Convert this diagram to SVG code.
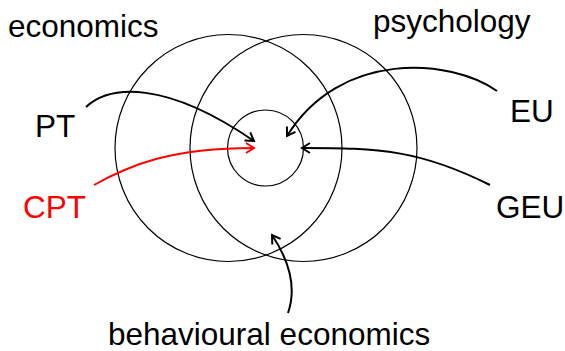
<svg xmlns="http://www.w3.org/2000/svg" width="565" height="351" viewBox="0 0 565 351">
<defs>
<marker id="ah" viewBox="-10 -6 12 12" refX="0" refY="0" markerWidth="12" markerHeight="12" markerUnits="userSpaceOnUse" orient="auto">
<path d="M-8,-5 L0,0 L-8,5" fill="none" stroke="#000" stroke-width="2"/>
</marker>
<marker id="ahr" viewBox="-10 -6 12 12" refX="0" refY="0" markerWidth="12" markerHeight="12" markerUnits="userSpaceOnUse" orient="auto">
<path d="M-8,-5 L0,0 L-8,5" fill="none" stroke="#f00" stroke-width="2"/>
</marker>
</defs>
<style>
.c{fill:none;stroke:#000;stroke-width:1.2}
.t{font-family:"Liberation Sans",Arial,sans-serif;font-size:31.5px;fill:#000}
.e{fill:none;stroke:#000;stroke-width:2;marker-end:url(#ah)}
.r{fill:none;stroke:#f00;stroke-width:2;marker-end:url(#ahr)}
</style>
<rect width="565" height="351" fill="#fff"/>
<g id="economics"><circle class="c" cx="228.5" cy="148" r="113.5"/><text class="t" x="8" y="37">economics</text></g>
<g id="psychology"><circle class="c" cx="303.5" cy="148" r="113.5"/><text class="t" x="373" y="32">psychology</text></g>
<g id="core"><circle class="c" cx="265.5" cy="148" r="38"/></g>
<g id="PT"><text class="t" x="35" y="137">PT</text></g>
<g id="CPT"><text class="t" x="23" y="218" style="fill:#f00">CPT</text></g>
<g id="EU"><text class="t" x="510" y="122">EU</text></g>
<g id="GEU"><text class="t" x="496" y="218">GEU</text></g>
<g id="behavioural"><text class="t" x="108" y="345">behavioural economics</text></g>
<g id="connectors">
<path class="e" d="M86,107 C110,85 165,80 254,141"/>
<path class="r" d="M94,185 C130,165 170,148 254,148"/>
<path class="e" d="M497,91 C450,58 340,50 287,136"/>
<path class="e" d="M490,185 C420,150 380,148 302,148"/>
<path class="e" d="M288,313 C296,290 292,265 272,235"/>
</g>
</svg>
